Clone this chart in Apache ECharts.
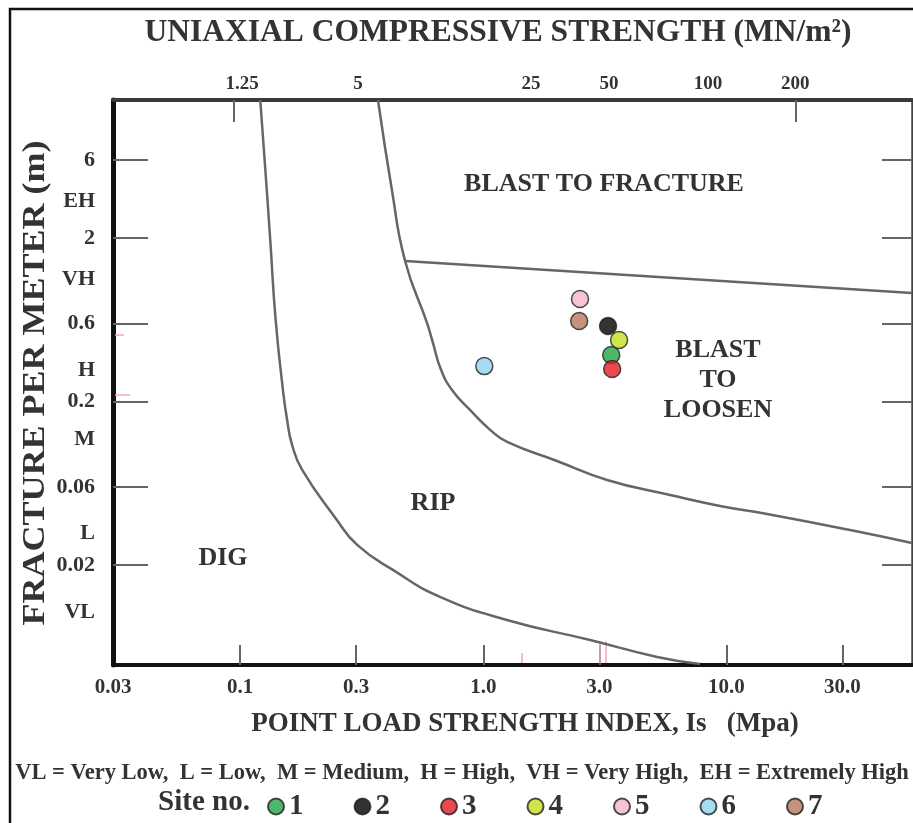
<!DOCTYPE html>
<html>
<head>
<meta charset="utf-8">
<script src="https://cdn.jsdelivr.net/npm/echarts@6/dist/echarts.min.js"></script>
<style>
  html, body { margin: 0; padding: 0; background: #fff; }
  #chart { width: 913px; height: 823px; }
</style>
</head>
<body>
<div id="chart"></div>
<script>
// bottom axis: point load strength index Is (MPa)
const isTicks = [0.03, 0.1, 0.3, 1, 3, 10, 30];
const isTickLabels = ['0.03', '0.1', '0.3', '1.0', '3.0', '10.0', '30.0'];

// top axis: UCS labels, placed over the Is value they sit above in the figure
const ucsLabels = ['1.25', '5', '25', '50', '100', '200'];
const ucsAtIs = [0.102, 0.305, 1.57, 3.29, 8.41, 19.2];
const ucsTickAtIs = [0.0944, 19.2];

// left axis: fracture per meter
const fracTicks = [0.02, 0.06, 0.2, 0.6, 2, 6];
const fracTickLabels = ['0.02', '0.06', '0.2', '0.6', '2', '6'];
const classLabels = ['VL', 'L', 'M', 'H', 'VH', 'EH'];
const classAt = [0.0103, 0.0315, 0.118, 0.312, 1.12, 3.38];

// boundary lines, [Is, fracture/m]
const digRipLine = [
  [0.121, 14], [0.127, 5.22], [0.133, 1.95], [0.140, 0.632], [0.150, 0.236],
  [0.156, 0.155], [0.1635, 0.109], [0.180, 0.0764], [0.250, 0.0378], [0.303, 0.0266],
  [0.425, 0.0187], [0.664, 0.0128], [1.25, 0.00924], [2.75, 0.00697],
  [5.19, 0.00549], [7.79, 0.00497]
];
const ripBlastLine = [
  [0.369, 14], [0.421, 3.94], [0.477, 1.45], [0.587, 0.606], [0.616, 0.477],
  [0.671, 0.312], [0.744, 0.236], [0.882, 0.178], [1.07, 0.134], [1.26, 0.113],
  [2.01, 0.0867], [3.23, 0.0664], [5.87, 0.0537], [9.42, 0.046], [14.7, 0.0411],
  [32.3, 0.0328], [58, 0.0273]
];
const fractureLoosenLine = [[0.477, 1.45], [58, 0.924]];

// sites
const siteNames = ['1', '2', '3', '4', '5', '6', '7'];
const siteIs = [3.36, 3.26, 3.39, 3.62, 2.50, 1.01, 2.48];
const siteFrac = [0.386, 0.58, 0.317, 0.477, 0.85, 0.33, 0.623];
const siteColors = ['#22a545', '#000000', '#e31b23', '#c4dd22', '#f3b5cd', '#90d3ef', '#b4785a'];

const serif = '"Liberation Serif", "Times New Roman", serif';
const ink = '#333';

function lookup(values, labels) {
  return function (v) {
    let best = 0;
    for (let i = 1; i < values.length; i++) {
      if (Math.abs(Math.log(values[i] / v)) < Math.abs(Math.log(values[best] / v))) best = i;
    }
    return labels[best];
  };
}

const labelStyle = { color: ink, fontFamily: serif, fontWeight: 'bold' };
const xMin = 0.03, xMax = 58, yMin = 0.0049, yMax = 14;

const boundaryStyle = { color: '#666', width: 2.5 };
const boundaries = [digRipLine, ripBlastLine, fractureLoosenLine].map((d, i) => ({
  type: 'line',
  data: d,
  smooth: i < 2 ? 0.5 : false,
  symbol: 'none',
  lineStyle: boundaryStyle,
  silent: true,
  z: 2
}));

const sites = siteNames.map((name, i) => ({
  name: name,
  type: 'scatter',
  data: [[siteIs[i], siteFrac[i]]],
  symbol: 'circle',
  symbolSize: 17,
  itemStyle: { color: siteColors[i], borderColor: '#222', borderWidth: 1.5 },
  z: 5
}));

const text = (x, y, str, size, extra) => Object.assign({
  type: 'text',
  x: x, y: y,
  style: {
    text: str,
    font: 'bold ' + size + 'px ' + serif,
    fill: ink,
    align: 'center', verticalAlign: 'middle',
    textAlign: 'center', textVerticalAlign: 'middle'
  }
}, extra || {});

// faint pink scan marks seen on the original scan
const scanMark = (x1, y1, x2, y2) => ({
  type: 'line', shape: { x1: x1, y1: y1, x2: x2, y2: y2 },
  style: { stroke: '#f2a6b8', lineWidth: 1.5 }, silent: true, z: 1
});

const chart = echarts.init(document.getElementById('chart'));
chart.setOption({
  animation: false,
  backgroundColor: '#fff',
  grid: { left: 113, right: 1, top: 100, bottom: 158 },
  xAxis: [
    {
      type: 'log', min: xMin, max: xMax, position: 'bottom',
      axisLine: { lineStyle: { color: '#111', width: 4 } },
      axisTick: { customValues: isTicks.slice(1), inside: true, length: 20, lineStyle: { color: '#666', width: 2 } },
      axisLabel: Object.assign({ customValues: isTicks, formatter: lookup(isTicks, isTickLabels), fontSize: 21, margin: 12 }, labelStyle),
      splitLine: { show: false },
      minorTick: { show: false }
    },
    {
      type: 'log', min: xMin, max: xMax, position: 'top',
      axisLine: { lineStyle: { color: '#3a3a3a', width: 4 } },
      axisTick: { customValues: ucsTickAtIs, inside: true, length: 22, lineStyle: { color: '#666', width: 2 } },
      axisLabel: Object.assign({ customValues: ucsAtIs, formatter: lookup(ucsAtIs, ucsLabels), fontSize: 19, margin: 6 }, labelStyle),
      splitLine: { show: false }
    }
  ],
  yAxis: [
    {
      type: 'log', min: yMin, max: yMax, position: 'left',
      axisLine: { lineStyle: { color: '#111', width: 5 } },
      axisTick: { customValues: fracTicks, inside: true, length: 35, lineStyle: { color: '#666', width: 2 } },
      axisLabel: Object.assign({
        customValues: fracTicks.concat(classAt),
        formatter: lookup(fracTicks.concat(classAt), fracTickLabels.concat(classLabels)),
        fontSize: 22, margin: 18
      }, labelStyle),
      splitLine: { show: false }
    },
    {
      type: 'log', min: yMin, max: yMax, position: 'right',
      axisLine: { lineStyle: { color: '#444', width: 2.5 } },
      axisTick: { customValues: fracTicks, inside: true, length: 30, lineStyle: { color: '#666', width: 2 } },
      axisLabel: { show: false },
      splitLine: { show: false }
    }
  ],
  legend: {
    data: siteNames,
    left: 262, top: 787,
    icon: 'circle',
    itemWidth: 16, itemHeight: 16, itemGap: 50,
    textStyle: { color: ink, fontFamily: serif, fontWeight: 'bold', fontSize: 29 }
  },
  graphic: [
    { type: 'rect', shape: { x: 10, y: 9, width: 1000, height: 1000 }, style: { fill: 'none', stroke: '#111', lineWidth: 2.5 }, silent: true },
    scanMark(522, 653, 522, 663),
    scanMark(600, 641, 600, 663),
    scanMark(606, 641, 606, 663),
    scanMark(115, 335, 124, 335),
    scanMark(115, 395, 130, 395),
    text(498, 33, 'UNIAXIAL COMPRESSIVE STRENGTH (MN/m²)', 31.5),
    text(525, 724, 'POINT LOAD STRENGTH INDEX, Is   (Mpa)', 27),
    text(36, 383, 'FRACTURE PER METER (m)', 36, { rotation: Math.PI / 2, scaleY: 0.85 }),
    text(462, 773, 'VL = Very Low,  L = Low,  M = Medium,  H = High,  VH = Very High,  EH = Extremely High', 22.5),
    text(204, 803, 'Site no.', 29),
    text(604, 184, 'BLAST TO FRACTURE', 26),
    text(718, 350, 'BLAST', 26),
    text(718, 380, 'TO', 26),
    text(718, 410, 'LOOSEN', 26),
    text(433, 503, 'RIP', 26),
    text(223, 558, 'DIG', 26)
  ],
  series: boundaries.concat(sites)
});
</script>
</body>
</html>
